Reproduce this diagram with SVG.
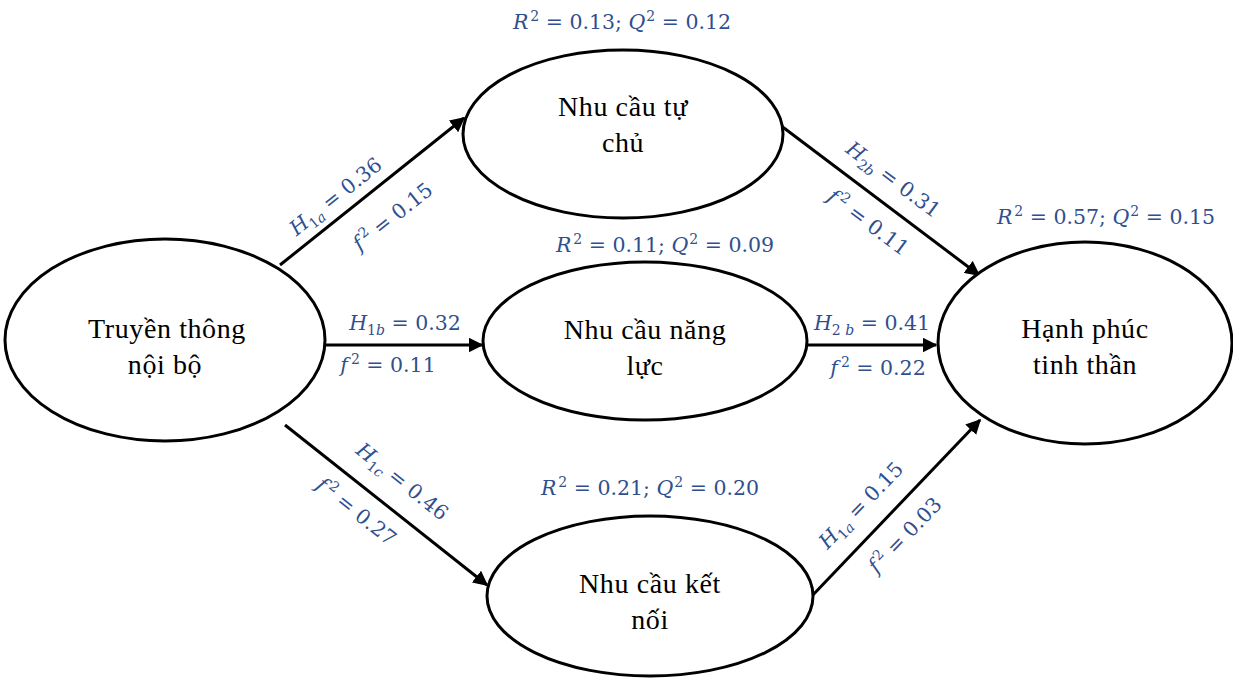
<svg xmlns="http://www.w3.org/2000/svg" width="1233" height="679" viewBox="0 0 1233 679">
<style>
.node{fill:#fff;stroke:#000;stroke-width:3}
.nt{font-family:"Liberation Serif",serif;font-size:28px;letter-spacing:0.6px;fill:#000;text-anchor:middle}
.lb{font-family:"DejaVu Serif","Liberation Serif",serif;font-size:20.5px;fill:#2f4f8f;text-anchor:middle}
.v{font-style:italic}
.s{font-size:14px}
.conn{stroke:#000;stroke-width:3;fill:none;marker-end:url(#ah)}
</style>
<defs>
<marker id="ah" viewBox="0 0 10 10" refX="9" refY="5" markerWidth="5" markerHeight="5" orient="auto" markerUnits="strokeWidth">
<path d="M0,0 L10,5 L0,10 z" fill="#000"/>
</marker>
</defs>
<rect width="1233" height="679" fill="#fff"/>
<g id="connectors">
<line class="conn" x1="280" y1="265" x2="464" y2="118"/>
<line class="conn" x1="325" y1="345" x2="482" y2="345"/>
<line class="conn" x1="285" y1="425" x2="487" y2="585"/>
<line class="conn" x1="780" y1="125" x2="979" y2="275"/>
<line class="conn" x1="807" y1="345" x2="936" y2="345"/>
<line class="conn" x1="810" y1="598" x2="980" y2="420"/>
</g>
<g id="n-truyen-thong">
<ellipse class="node" cx="165" cy="340" rx="160" ry="101"/>
<text class="nt" x="167" y="338">Truyền thông</text>
<text class="nt" x="165" y="374">nội bộ</text>
</g>
<g id="n-tu-chu">
<ellipse class="node" cx="623" cy="134" rx="160" ry="84"/>
<text class="nt" x="623" y="116">Nhu cầu tự</text>
<text class="nt" x="623" y="152">chủ</text>
</g>
<g id="n-nang-luc">
<ellipse class="node" cx="645" cy="341" rx="162" ry="79"/>
<text class="nt" x="645" y="339">Nhu cầu năng</text>
<text class="nt" x="645" y="375">lực</text>
</g>
<g id="n-ket-noi">
<ellipse class="node" cx="650" cy="596" rx="163" ry="80"/>
<text class="nt" x="650" y="593">Nhu cầu kết</text>
<text class="nt" x="650" y="629">nối</text>
</g>
<g id="n-hanh-phuc">
<ellipse class="node" cx="1085" cy="343" rx="147" ry="101"/>
<text class="nt" x="1085" y="338">Hạnh phúc</text>
<text class="nt" x="1085" y="374">tinh thần</text>
</g>
<g id="labels">
<text class="lb" x="622" y="29"><tspan class="v">R</tspan><tspan class="s" dx="2" dy="-8">2</tspan><tspan dy="8"> = 0.13; </tspan><tspan class="v">Q</tspan><tspan class="s" dx="1" dy="-8">2</tspan><tspan dy="8"> = 0.12</tspan></text>
<text class="lb" x="665" y="252"><tspan class="v">R</tspan><tspan class="s" dx="2" dy="-8">2</tspan><tspan dy="8"> = 0.11; </tspan><tspan class="v">Q</tspan><tspan class="s" dx="1" dy="-8">2</tspan><tspan dy="8"> = 0.09</tspan></text>
<text class="lb" x="650" y="495"><tspan class="v">R</tspan><tspan class="s" dx="2" dy="-8">2</tspan><tspan dy="8"> = 0.21; </tspan><tspan class="v">Q</tspan><tspan class="s" dx="1" dy="-8">2</tspan><tspan dy="8"> = 0.20</tspan></text>
<text class="lb" x="1106" y="224"><tspan class="v">R</tspan><tspan class="s" dx="2" dy="-8">2</tspan><tspan dy="8"> = 0.57; </tspan><tspan class="v">Q</tspan><tspan class="s" dx="1" dy="-8">2</tspan><tspan dy="8"> = 0.15</tspan></text>

<text class="lb" x="405" y="330"><tspan class="v">H</tspan><tspan class="s" dy="5">1<tspan class="v">b</tspan></tspan><tspan dy="-5"> = 0.32</tspan></text>
<text class="lb" x="388" y="372"><tspan class="v">f</tspan><tspan class="s" dx="3" dy="-8">2</tspan><tspan dy="8"> = 0.11</tspan></text>
<text class="lb" x="872" y="330"><tspan class="v">H</tspan><tspan class="s" dy="5">2 <tspan class="v">b</tspan></tspan><tspan dy="-5"> = 0.41</tspan></text>
<text class="lb" x="878" y="375"><tspan class="v">f</tspan><tspan class="s" dx="3" dy="-8">2</tspan><tspan dy="8"> = 0.22</tspan></text>

<g transform="translate(340,202) rotate(-38.5)"><text class="lb" x="0" y="0"><tspan class="v">H</tspan><tspan class="s" dy="5">1<tspan class="v">a</tspan></tspan><tspan dy="-5"> = 0.36</tspan></text></g>
<g transform="translate(397,222) rotate(-38.5)"><text class="lb" x="0" y="0"><tspan class="v">f</tspan><tspan class="s" dx="3" dy="-8">2</tspan><tspan dy="8"> = 0.15</tspan></text></g>

<g transform="translate(889,185) rotate(37)"><text class="lb" x="0" y="0"><tspan class="v">H</tspan><tspan class="s" dy="5">2<tspan class="v">b</tspan></tspan><tspan dy="-5"> = 0.31</tspan></text></g>
<g transform="translate(864,228) rotate(37)"><text class="lb" x="0" y="0"><tspan class="v">f</tspan><tspan class="s" dx="3" dy="-8">2</tspan><tspan dy="8"> = 0.11</tspan></text></g>

<g transform="translate(398,487) rotate(38.5)"><text class="lb" x="0" y="0"><tspan class="v">H</tspan><tspan class="s" dy="5">1<tspan class="v">c</tspan></tspan><tspan dy="-5"> = 0.46</tspan></text></g>
<g transform="translate(352,517) rotate(38.5)"><text class="lb" x="0" y="0"><tspan class="v">f</tspan><tspan class="s" dx="3" dy="-8">2</tspan><tspan dy="8"> = 0.27</tspan></text></g>

<g transform="translate(866,510) rotate(-46)"><text class="lb" x="0" y="0"><tspan class="v">H</tspan><tspan class="s" dy="5">1<tspan class="v">a</tspan></tspan><tspan dy="-5"> = 0.15</tspan></text></g>
<g transform="translate(910,540) rotate(-46)"><text class="lb" x="0" y="0"><tspan class="v">f</tspan><tspan class="s" dx="3" dy="-8">2</tspan><tspan dy="8"> = 0.03</tspan></text></g>
</g>
</svg>
